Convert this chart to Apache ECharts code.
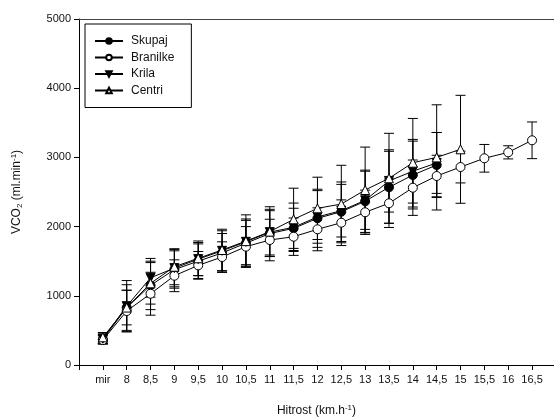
<!DOCTYPE html>
<html>
<head>
<meta charset="utf-8">
<script src="https://cdn.jsdelivr.net/npm/echarts@6/dist/echarts.min.js"></script>
<style>
  html, body { margin: 0; padding: 0; background: #fff; }
  #chart { width: 554px; height: 417px; }
</style>
</head>
<body>
<div id="chart"></div>
<script>
const categories = ['mir', '8', '8,5', '9', '9,5', '10', '10,5', '11', '11,5', '12', '12,5', '13', '13,5', '14', '14,5', '15', '15,5', '16', '16,5'];

const skupaj = [370, 830, 1150, 1380, 1500, 1620, 1760, 1900, 1975, 2120, 2215, 2366, 2568, 2745, 2890];
const skupajSd = [60, 330, 350, 270, 250, 280, 330, 330, 290, 420, 430, 450, 520, 490, 470];

const branilke = [360, 780, 1030, 1290, 1440, 1560, 1710, 1806, 1854, 1961, 2056, 2207, 2337, 2562, 2731, 2861, 2987, 3073, 3247];
const branilkeSd = [60, 300, 310, 230, 200, 220, 290, 300, 270, 310, 330, 320, 350, 400, 300, 230, 200, 95, 265];

const krila = [380, 850, 1260, 1400, 1530, 1650, 1780, 1920, 1990, 2140, 2230, 2380, 2660, 2800, 2920];
const krilaSd = [70, 370, 280, 270, 240, 290, 330, 330, 350, 380, 380, 420, 450, 460, 440];

const centri = [400, 830, 1180, 1420, 1542, 1662, 1790, 1927, 2105, 2264, 2326, 2529, 2698, 2923, 3000, 3117];
const centriSd = [70, 250, 300, 260, 250, 300, 380, 360, 450, 450, 560, 620, 650, 640, 760, 780];

const yTicks = [0, 1000, 2000, 3000, 4000, 5000];

const chart = echarts.init(document.getElementById('chart'));
const font = 'Liberation Sans, Arial, sans-serif';

function points(vals) {
  return vals.map((v, i) => [i, v]);
}
function errData(vals, sd) {
  return vals.map((v, i) => [i, v - sd[i], v + sd[i]]);
}

function errSeries(name, vals, sd) {
  return {
    name: name + ' SD',
    type: 'custom',
    z: 3,
    silent: true,
    data: errData(vals, sd),
    renderItem: function (params, api) {
      const x = api.value(0);
      const lo = api.coord([x, api.value(1)]);
      const hi = api.coord([x, api.value(2)]);
      const w = 5;
      const style = { stroke: '#000', lineWidth: 1 };
      return {
        type: 'group',
        children: [
          { type: 'line', shape: { x1: lo[0], y1: lo[1], x2: hi[0], y2: hi[1] }, style: style },
          { type: 'line', shape: { x1: lo[0] - w, y1: lo[1], x2: lo[0] + w, y2: lo[1] }, style: style },
          { type: 'line', shape: { x1: hi[0] - w, y1: hi[1], x2: hi[0] + w, y2: hi[1] }, style: style }
        ]
      };
    }
  };
}

function lineSeries(name, vals, symbol, filled, rotate) {
  return {
    name: name,
    type: 'line',
    z: 4,
    data: points(vals),
    symbol: symbol,
    symbolSize: 9,
    symbolRotate: rotate || 0,
    lineStyle: { color: '#000', width: 1 },
    itemStyle: {
      color: filled ? '#000' : '#fff',
      borderColor: '#000',
      borderWidth: 1
    }
  };
}

const option = {
  backgroundColor: '#fff',
  animation: false,
  textStyle: { fontFamily: font },
  grid: { left: 79, top: 19, right: 0, bottom: 52, outerBoundsMode: 'none' },
  legend: {
    data: ['Skupaj', 'Branilke', 'Krila', 'Centri'],
    orient: 'vertical',
    left: 85,
    top: 24,
    padding: [11, 17, 11, 9],
    itemGap: 4.5,
    itemWidth: 28,
    itemHeight: 7,
    borderColor: '#000',
    borderWidth: 1,
    textStyle: { fontFamily: font, fontSize: 12, color: '#111', padding: [0, 0, 0, 3] }
  },
  xAxis: [{
    type: 'value',
    min: -1,
    max: 18.92,
    interval: 1,
    splitLine: { show: false },
    axisLine: { lineStyle: { color: '#000', width: 1 } },
    axisTick: { length: 5, lineStyle: { color: '#000' } },
    axisLabel: {
      color: '#111',
      fontSize: 11,
      margin: 9,
      formatter: v => categories[v] || ''
    },
    name: 'Hitrost (km.h{sup|-1})',
    nameLocation: 'middle',
    nameGap: 39,
    nameTextStyle: {
      fontSize: 12,
      color: '#111',
      rich: { sup: { fontSize: 8, verticalAlign: 'top', padding: [0, 0, 6, 0] } }
    }
  }, {
    type: 'value',
    position: 'top',
    min: -1,
    max: 18.92,
    axisLine: { show: true, onZero: false, lineStyle: { color: '#444', width: 1 } },
    axisTick: { show: false },
    axisLabel: { show: false },
    splitLine: { show: false }
  }],
  yAxis: {
    type: 'value',
    min: yTicks[0],
    max: yTicks[yTicks.length - 1],
    interval: 1000,
    splitLine: { show: false },
    axisLine: { show: true, onZero: false, lineStyle: { color: '#000', width: 1 } },
    axisTick: { show: true, length: 5, lineStyle: { color: '#000' } },
    axisLabel: { color: '#111', fontSize: 11, margin: 8, formatter: v => String(v) },
    name: 'VCO{sub|2} (ml.min{sup|-1})',
    nameLocation: 'middle',
    nameGap: 55,
    nameTextStyle: {
      fontSize: 12,
      color: '#111',
      rich: {
        sub: { fontSize: 8, verticalAlign: 'bottom', padding: [6, 0, 0, 0] },
        sup: { fontSize: 8, verticalAlign: 'top', padding: [0, 0, 6, 0] }
      }
    }
  },
  series: [
    errSeries('Centri', centri, centriSd),
    errSeries('Krila', krila, krilaSd),
    errSeries('Branilke', branilke, branilkeSd),
    errSeries('Skupaj', skupaj, skupajSd),
    lineSeries('Skupaj', skupaj, 'circle', true),
    lineSeries('Branilke', branilke, 'circle', false),
    lineSeries('Krila', krila, 'triangle', true, 180),
    lineSeries('Centri', centri, 'triangle', false)
  ]
};

chart.setOption(option);
</script>
</body>
</html>
